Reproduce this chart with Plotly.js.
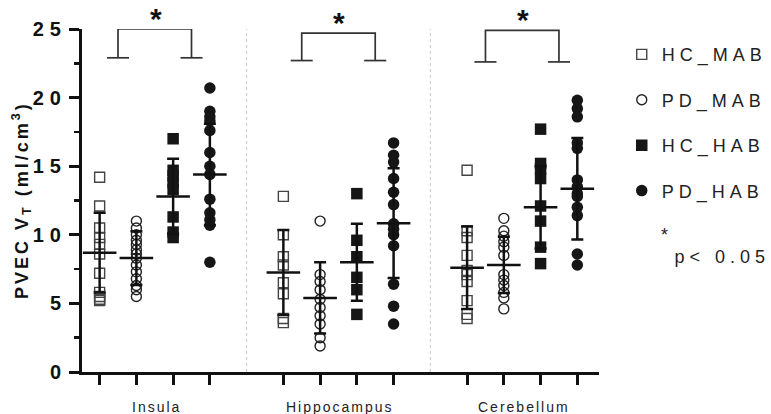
<!DOCTYPE html>
<html><head><meta charset="utf-8">
<script src="https://cdn.plot.ly/plotly-3.0.1.min.js"></script>
<style>
body{margin:0;background:#fff}
#chart{width:771px;height:414px}
.legendtext{letter-spacing:5px}
.ytick text{letter-spacing:6px}
g.annotation .annotation-text{letter-spacing:2px}
g.annotation[data-index="7"] .annotation-text{letter-spacing:5px}
g.annotation[data-index="8"] .annotation-text{letter-spacing:3px}
</style></head><body><div id="chart"></div>
<script>
// ---- data ----
const regions = ['Insula', 'Hippocampus', 'Cerebellum'];
const groups = ['HC_MAB', 'PD_MAB', 'HC_HAB', 'PD_HAB'];

const insulaHcMab = [14.2, 12.1, 10.5, 9.8, 9.3, 8.6, 7.2, 5.8, 5.5, 5.3, 5.2];
const insulaPdMab = [11.0, 10.5, 10.0, 9.6, 9.3, 8.9, 8.6, 8.3, 7.8, 7.3, 6.8, 6.3, 6.0, 5.5];
const insulaHcHab = [17.0, 14.7, 14.3, 13.8, 13.3, 11.3, 10.2, 9.8];
const insulaPdHab = [20.7, 19.0, 18.6, 18.3, 17.6, 16.0, 15.0, 14.4, 12.6, 11.6, 11.1, 10.7, 8.0];

const hippoHcMab = [12.8, 10.0, 8.4, 7.8, 6.5, 5.7, 3.9, 3.6];
const hippoPdMab = [11.0, 7.1, 6.6, 6.0, 5.3, 4.7, 4.1, 3.5, 2.5, 1.9];
const hippoHcHab = [13.0, 9.6, 8.4, 6.9, 6.0, 4.2];
const hippoPdHab = [16.7, 15.8, 15.3, 14.1, 13.1, 12.2, 10.8, 10.4, 10.0, 9.2, 6.4, 4.8, 3.5];

const cerebHcMab = [14.7, 10.3, 9.8, 8.5, 7.4, 7.1, 6.6, 5.2, 4.2, 3.9];
const cerebPdMab = [11.2, 10.3, 9.9, 9.5, 9.1, 8.5, 7.1, 6.7, 6.3, 5.8, 5.4, 4.6];
const cerebHcHab = [17.7, 15.2, 14.8, 14.1, 12.1, 11.0, 9.1, 7.9];
const cerebPdHab = [19.8, 19.2, 18.6, 16.7, 16.3, 14.0, 13.5, 13.0, 12.8, 12.0, 11.4, 8.6, 7.8];

// mean and SD per region (Insula, Hippocampus, Cerebellum)
const hcMabMean = [8.7, 7.25, 7.6];   const hcMabSD = [2.9, 3.1, 3.0];
const pdMabMean = [8.3, 5.4, 7.8];    const pdMabSD = [1.95, 2.6, 2.05];
const hcHabMean = [12.8, 8.0, 12.0];  const hcHabSD = [2.75, 2.8, 3.0];
const pdHabMean = [14.4, 10.85, 13.35]; const pdHabSD = [3.7, 4.0, 3.7];

// significance brackets (top and foot levels)
const bracketTop = [25.0, 24.7, 24.9];
const bracketFoot = [22.9, 22.7, 22.6];
const sigLabel = '*';
const sigNote = 'p< 0.05';
const yTitle = '<b>PVEC V<sub>T</sub> (ml/cm<sup>3</sup>)</b>';

const yTickVals = [0, 5, 10, 15, 20, 25];

// ---- build ----
const pointSets = [
  [insulaHcMab, hippoHcMab, cerebHcMab],
  [insulaPdMab, hippoPdMab, cerebPdMab],
  [insulaHcHab, hippoHcHab, cerebHcHab],
  [insulaPdHab, hippoPdHab, cerebPdHab]
];
const meanSets = [hcMabMean, pdMabMean, hcHabMean, pdHabMean];
const sdSets = [hcMabSD, pdMabSD, hcHabSD, pdHabSD];
const symbols = ['square-open', 'circle-open', 'square', 'circle'];
const colors = ['#444', '#222', '#161616', '#161616'];
const sizes = [10, 10, 11.5, 11.5];

const gap = 5; // slots per region (4 groups + 1 gap)
const pos = (r, g) => r * gap + g;
const FONT = 'Liberation Sans, Arial';

const traces = [];
groups.forEach((name, g) => {
  const xs = [], ys = [];
  pointSets[g].forEach((vals, r) => vals.forEach(v => { xs.push(pos(r, g)); ys.push(v); }));
  traces.push({
    type: 'scatter', mode: 'markers', name: name, x: xs, y: ys,
    legendgroup: name, cliponaxis: false, hoverinfo: 'skip',
    marker: {symbol: symbols[g], size: sizes[g], color: colors[g],
             line: {width: g < 2 ? 1.4 : 0, color: colors[g]}}
  });
});
groups.forEach((name, g) => {
  traces.push({
    type: 'scatter', mode: 'markers', showlegend: false, hoverinfo: 'skip',
    x: regions.map((_, r) => pos(r, g)), y: meanSets[g],
    marker: {symbol: 'line-ew', size: 24, color: '#111', line: {width: 2.5, color: '#111'}},
    error_y: {type: 'data', array: sdSets[g], visible: true, thickness: 2.5, width: 6, color: '#111'}
  });
});

// brackets
const bx = [], by = [];
const annotations = [];
regions.forEach((name, r) => {
  const left = (pos(r, 0) + pos(r, 1)) / 2;
  const right = (pos(r, 2) + pos(r, 3)) / 2;
  const hw = 0.3;
  bx.push(left - hw, left + hw, null, left, left, right, right, null, right - hw, right + hw, null);
  by.push(bracketFoot[r], bracketFoot[r], null, bracketFoot[r], bracketTop[r], bracketTop[r], bracketFoot[r], null, bracketFoot[r], bracketFoot[r], null);
  const center = (pos(r, 0) + pos(r, 3)) / 2;
  annotations.push({x: center + 0.05, y: bracketTop[r], xref: 'x', yref: 'y', text: '<b>' + sigLabel + '</b>',
    showarrow: false, yanchor: 'bottom', yshift: -8, font: {size: 30, color: '#111', family: FONT}});
  annotations.push({x: center + 0.05, y: -0.103, xref: 'x', yref: 'paper', text: name, showarrow: false,
    yanchor: 'middle', font: {size: 14, color: '#222', family: FONT}});
});
traces.push({type: 'scatter', mode: 'lines', x: bx, y: by, showlegend: false, hoverinfo: 'skip',
  cliponaxis: false, line: {color: '#333', width: 1.7}});

annotations.push({x: 1.129, y: 0.40, xref: 'paper', yref: 'paper', text: sigLabel, showarrow: false,
  xanchor: 'center', yanchor: 'middle', font: {size: 18, color: '#222', family: FONT}});
annotations.push({x: 1.238, y: 0.335, xref: 'paper', yref: 'paper', text: sigNote, showarrow: false,
  xanchor: 'center', yanchor: 'middle', font: {size: 18, color: '#222', family: FONT}});
annotations.push({x: -0.117, y: 0.5, xref: 'paper', yref: 'paper', text: yTitle, showarrow: false,
  textangle: -90, xanchor: 'center', yanchor: 'middle', font: {size: 18, color: '#111', family: FONT}});

const shapes = [1, 2].map(r => {
  const xm = (pos(r - 1, 3) + pos(r, 0)) / 2;
  return {type: 'line', xref: 'x', yref: 'y', x0: xm, x1: xm, y0: 0, y1: 25,
          line: {color: '#c8c8c8', width: 1, dash: 'dot'}, layer: 'below'};
});

const tickPositions = [];
regions.forEach((_, r) => groups.forEach((_, g) => tickPositions.push(pos(r, g))));

const layout = {
  width: 771, height: 414,
  margin: {l: 82, r: 172, t: 29, b: 42, autoexpand: false},
  paper_bgcolor: '#fff', plot_bgcolor: '#fff',
  font: {family: FONT, color: '#111'},
  showlegend: true,
  legend: {x: 1.044, xanchor: 'left', y: 0.979, yanchor: 'top', tracegroupgap: 19,
           font: {size: 18, color: '#222', family: FONT}, bgcolor: 'rgba(0,0,0,0)'},
  xaxis: {range: [-0.48, 13.59], showgrid: false, zeroline: false, showline: true, linewidth: 3, linecolor: '#111',
          tickmode: 'array', tickvals: tickPositions, ticktext: tickPositions.map(() => ''),
          ticks: 'outside', ticklen: 10, tickwidth: 3, tickcolor: '#111', fixedrange: true},
  yaxis: {range: [0, 25], showgrid: false, zeroline: false, showline: true, linewidth: 3, linecolor: '#111',
          tickmode: 'array', tickvals: yTickVals, ticks: 'outside', ticklen: 10, tickwidth: 3, tickcolor: '#111',
          ticklabelstandoff: -2,
          minor: {dtick: 2.5, ticks: 'outside', ticklen: 5, tickwidth: 2.5, tickcolor: '#111', showgrid: false},
          tickfont: {size: 20, weight: 'bold', color: '#111', family: FONT},
          fixedrange: true},
  shapes: shapes,
  annotations: annotations
};

Plotly.newPlot('chart', traces, layout, {staticPlot: true, displayModeBar: false});
</script></body></html>
